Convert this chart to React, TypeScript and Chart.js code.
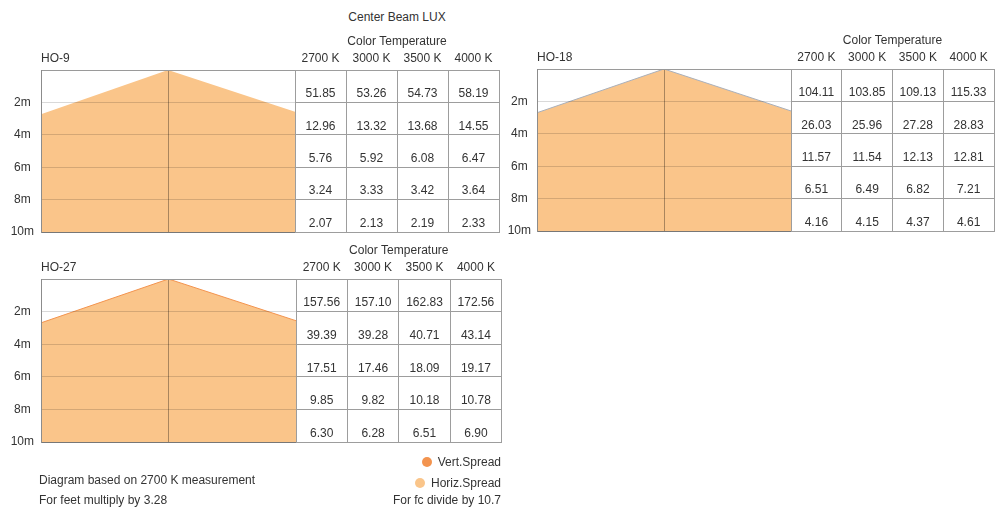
import React, { useEffect, useRef } from 'react';
import { Chart, registerables } from 'chart.js';

Chart.register(...registerables);

// ---------- data ----------
const temperatures = ['2700 K', '3000 K', '3500 K', '4000 K'];
const distances = [2, 4, 6, 8, 10];
const distanceTicks = [0, 2, 4, 6, 8, 10];

// beam profile: lateral position (normalised) vs. depth (m) of the beam edge
const beamOffsets = [-1, 0, 1];
const ho9Beam = [2.73, 0, 2.58];
const ho18Beam = [2.7, 0, 2.59];
const ho27Beam = [2.69, 0, 2.56];

// centre beam lux, one row per distance (2m..10m), columns by colour temperature
const ho9Lux2m = [51.85, 53.26, 54.73, 58.19];
const ho9Lux4m = [12.96, 13.32, 13.68, 14.55];
const ho9Lux6m = [5.76, 5.92, 6.08, 6.47];
const ho9Lux8m = [3.24, 3.33, 3.42, 3.64];
const ho9Lux10m = [2.07, 2.13, 2.19, 2.33];

const ho18Lux2m = [104.11, 103.85, 109.13, 115.33];
const ho18Lux4m = [26.03, 25.96, 27.28, 28.83];
const ho18Lux6m = [11.57, 11.54, 12.13, 12.81];
const ho18Lux8m = [6.51, 6.49, 6.82, 7.21];
const ho18Lux10m = [4.16, 4.15, 4.37, 4.61];

const ho27Lux2m = [157.56, 157.1, 162.83, 172.56];
const ho27Lux4m = [39.39, 39.28, 40.71, 43.14];
const ho27Lux6m = [17.51, 17.46, 18.09, 19.17];
const ho27Lux8m = [9.85, 9.82, 10.18, 10.78];
const ho27Lux10m = [6.3, 6.28, 6.51, 6.9];

const legendLabels = ['Vert.Spread', 'Horiz.Spread'];

// ---------- styles ----------
const FONT = '"Liberation Sans", Arial, Helvetica, sans-serif';
const TEXT = '#333333';
const VERT_COLOR = '#f3944f';
const HORIZ_COLOR = '#fac58a';

const al = (v: number) => Math.round(v + 0.5) - 0.5;

const luxTablePlugin = {
  id: 'luxTable',
  afterDraw(chart: any, _args: any, opts: any) {
    const { ctx, chartArea } = chart;
    const y = chart.scales.y;
    const left = chartArea.right;
    const colW = opts.colW;
    const n = temperatures.length;
    const right = left + colW * n;
    ctx.save();
    ctx.strokeStyle = '#9d9d9d';
    ctx.lineWidth = 1;
    ctx.beginPath();
    distanceTicks.forEach((d) => {
      const py = al(y.getPixelForValue(d));
      ctx.moveTo(al(left) - 0.5, py);
      ctx.lineTo(al(right) + 0.5, py);
    });
    const top = al(y.getPixelForValue(0));
    const bottom = al(y.getPixelForValue(10));
    for (let i = 0; i <= n; i++) {
      const px = al(left + colW * i);
      ctx.moveTo(px, top);
      ctx.lineTo(px, bottom);
    }
    ctx.stroke();

    ctx.fillStyle = TEXT;
    ctx.font = '12px ' + FONT;
    ctx.textAlign = 'center';
    ctx.textBaseline = 'middle';
    (opts.rows as number[][]).forEach((row, r) => {
      const rb = y.getPixelForValue(distances[r]);
      row.forEach((v, c) => {
        ctx.fillText(v.toFixed(2), left + colW * (c + 0.5), rb - 8.5);
      });
    });
    temperatures.forEach((t, c) => {
      ctx.fillText(t, left + colW * (c + 0.5), opts.headerY);
    });
    ctx.fillText('Color Temperature', left + (colW * n) / 2, opts.ctY);
    ctx.textAlign = 'left';
    ctx.fillText(opts.title, chartArea.left, opts.headerY);
    ctx.restore();
  },
};

type PanelProps = {
  left: number;
  top: number;
  width: number;
  height: number;
  pad: { top: number; bottom: number; right: number };
  yWidth: number;
  tickPad: number;
  colW: number;
  title: string;
  beam: number[];
  rows: number[][];
  edgeColor: string;
  edgeWidth: number;
  headerY: number;
  ctY: number;
};

function Panel(p: PanelProps) {
  const ref = useRef<HTMLCanvasElement | null>(null);
  useEffect(() => {
    if (!ref.current) return;
    const pts = beamOffsets.map((x, i) => ({ x, y: p.beam[i] }));
    const chart = new Chart(ref.current, {
      type: 'line',
      data: {
        datasets: [
          {
            label: legendLabels[0],
            data: pts,
            borderColor: p.edgeColor,
            borderWidth: p.edgeWidth,
            backgroundColor: VERT_COLOR,
            fill: false,
            pointRadius: 0,
            tension: 0,
            order: 1,
          },
          {
            label: legendLabels[1],
            data: pts,
            borderColor: 'rgba(0,0,0,0)',
            borderWidth: 0,
            backgroundColor: HORIZ_COLOR,
            fill: { value: 10 },
            pointRadius: 0,
            tension: 0,
            order: 2,
          },
        ],
      },
      options: {
        responsive: false,
        animation: false,
        events: [],
        layout: { padding: { left: 0, top: p.pad.top, bottom: p.pad.bottom, right: p.pad.right } },
        plugins: {
          legend: { display: false },
          tooltip: { enabled: false },
          title: { display: false },
          luxTable: { colW: p.colW, rows: p.rows, title: p.title, headerY: p.headerY, ctY: p.ctY },
        } as any,
        scales: {
          x: {
            type: 'linear',
            min: -1,
            max: 1,
            ticks: { display: false, stepSize: 1 },
            grid: {
              z: 1,
              drawTicks: false,
              color: (ctx: any) => (ctx.tick && ctx.tick.value === 0 ? 'rgba(0,0,0,0.32)' : '#9a9a9a'),
            },
            border: { display: true, color: '#8c8c8c', z: 1 },
            afterFit: (s: any) => {
              s.height = 0;
            },
          },
          y: {
            type: 'linear',
            min: 0,
            max: 10,
            reverse: true,
            ticks: {
              stepSize: 2,
              padding: p.tickPad,
              crossAlign: 'center',
              color: TEXT,
              font: { family: FONT, size: 12 },
              callback: (v: any) => (Number(v) === 0 ? '' : v + 'm'),
            },
            grid: {
              z: 1,
              drawTicks: false,
              color: (ctx: any) => (ctx.tick && ctx.tick.value === 0 ? '#9a9a9a' : 'rgba(0,0,0,0.15)'),
            },
            border: { display: true, color: '#8c8c8c', z: 1 },
            afterFit: (s: any) => {
              s.width = p.yWidth;
            },
          },
        },
      } as any,
      plugins: [luxTablePlugin as any],
    });
    return () => chart.destroy();
  }, []);
  return (
    <canvas
      ref={ref}
      width={p.width}
      height={p.height}
      style={{ position: 'absolute', left: p.left, top: p.top, width: p.width, height: p.height }}
    />
  );
}

const textStyle = (extra: React.CSSProperties): React.CSSProperties => ({
  position: 'absolute',
  fontFamily: FONT,
  fontSize: 12,
  lineHeight: '14px',
  color: TEXT,
  whiteSpace: 'nowrap',
  ...extra,
});

export default function App() {
  return (
    <div style={{ position: 'absolute', left: 0, top: 0, width: 996, height: 510, background: '#fff', overflow: 'hidden' }}>
      <div style={textStyle({ left: 297, width: 200, textAlign: 'center', top: 10 })}>Center Beam LUX</div>

      <Panel
        left={0}
        top={30}
        width={505}
        height={218}
        pad={{ top: 40, bottom: 16, right: 210 }}
        yWidth={41}
        tickPad={7}
        colW={51}
        title="HO-9"
        beam={ho9Beam}
        rows={[ho9Lux2m, ho9Lux4m, ho9Lux6m, ho9Lux8m, ho9Lux10m]}
        edgeColor="rgba(0,0,0,0)"
        edgeWidth={0}
        headerY={29}
        ctY={11.7}
      />
      <Panel
        left={502}
        top={30}
        width={494}
        height={217}
        pad={{ top: 39, bottom: 16, right: 205 }}
        yWidth={35}
        tickPad={6}
        colW={50.75}
        title="HO-18"
        beam={ho18Beam}
        rows={[ho18Lux2m, ho18Lux4m, ho18Lux6m, ho18Lux8m, ho18Lux10m]}
        edgeColor="#aab0ba"
        edgeWidth={1}
        headerY={27.7}
        ctY={10.7}
      />
      <Panel
        left={0}
        top={240}
        width={505}
        height={218}
        pad={{ top: 39, bottom: 16, right: 209 }}
        yWidth={41}
        tickPad={7}
        colW={51.4}
        title="HO-27"
        beam={ho27Beam}
        rows={[ho27Lux2m, ho27Lux4m, ho27Lux6m, ho27Lux8m, ho27Lux10m]}
        edgeColor={VERT_COLOR}
        edgeWidth={1}
        headerY={27.3}
        ctY={10.7}
      />

      <div style={textStyle({ right: 996 - 501, top: 455, display: 'flex', alignItems: 'center' })}>
        <span style={{ display: 'inline-block', width: 10, height: 10, borderRadius: 5, background: VERT_COLOR, marginRight: 6 }} />
        {legendLabels[0]}
      </div>
      <div style={textStyle({ right: 996 - 501, top: 476, display: 'flex', alignItems: 'center' })}>
        <span style={{ display: 'inline-block', width: 10, height: 10, borderRadius: 5, background: HORIZ_COLOR, marginRight: 6 }} />
        {legendLabels[1]}
      </div>

      <div style={textStyle({ left: 39, top: 473 })}>Diagram based on 2700 K measurement</div>
      <div style={textStyle({ left: 39, top: 493 })}>For feet multiply by 3.28</div>
      <div style={textStyle({ right: 996 - 501, top: 493 })}>For fc divide by 10.7</div>
    </div>
  );
}
